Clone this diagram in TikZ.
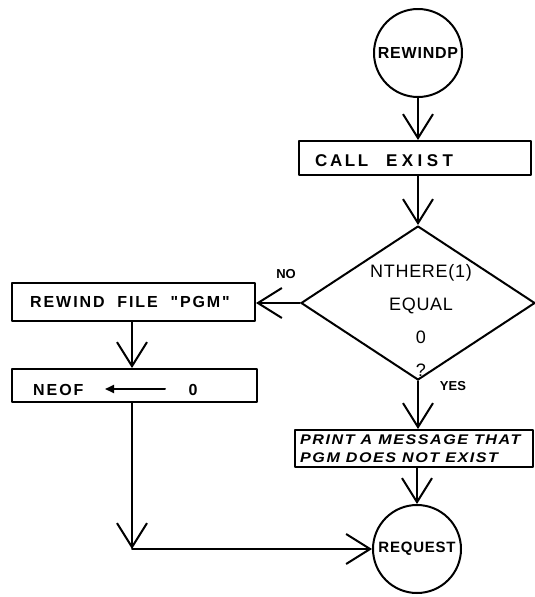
\documentclass[tikz,border=0pt]{standalone}
\usepackage{fontspec}
\setmainfont{Liberation Sans}
\newfontfamily\circlefont[LetterSpace=5]{Liberation Sans}
\newfontfamily\widefont[LetterSpace=12]{Liberation Sans}
\newfontfamily\callfont[LetterSpace=15]{Liberation Sans}
\newfontfamily\existfont[LetterSpace=26]{Liberation Sans}
\newfontfamily\printfont[LetterSpace=11,FakeStretch=1.15]{Liberation Sans}
\newfontfamily\testfont[LetterSpace=4]{Liberation Sans}
\usetikzlibrary{arrows.meta,shapes.geometric}
\begin{document}
\begin{tikzpicture}[x=1pt,y=-1pt,
  ink/.style={line width=2pt, line join=round, line cap=round},
  flow/.style={ink, -{Straight Barb[length=24pt,width=30pt]}},
  procbox/.style={ink, draw, rectangle, inner sep=0pt},
  termcircle/.style={ink, draw, circle, inner sep=0pt, minimum size=88pt,
    font=\circlefont\bfseries\fontsize{16}{16}\selectfont},
  boxtext/.style={font=\widefont\bfseries\fontsize{16}{16}\selectfont, inner sep=0pt},
  calltext/.style={font=\callfont\bfseries\fontsize{17}{17}\selectfont, inner sep=0pt},
  printtext/.style={font=\printfont\bfseries\itshape\fontsize{14}{18}\selectfont,
    align=left, inner sep=0pt},
  testtext/.style={font=\testfont\fontsize{18}{33}\selectfont,
    align=center, inner sep=0pt},
  smalllabel/.style={font=\bfseries\fontsize{13}{13}\selectfont, inner sep=0pt}
]
\useasboundingbox (0,0) rectangle (535,597);

% terminals
\node[termcircle] (rewindp) at (418,53) {REWINDP};
\node[termcircle, font=\circlefont\bfseries\fontsize{15}{15}\selectfont] (request) at (417,549) {REQUEST};

% right column
\node[procbox, minimum width=232pt, minimum height=34pt] (callexist) at (415,158) {};
\node[calltext, anchor=west] (callexisttxt) at (315,161) {CALL\hspace{18pt}{\existfont EXIST}};

\node[ink, draw, diamond, minimum width=234pt, minimum height=154pt, inner sep=0pt] (test) at (418,303) {};
\node[testtext] (testtxt) at (421,320) {NTHERE(1)\\EQUAL\\0\\?};

\node[procbox, minimum width=238pt, minimum height=37pt] (print) at (414,448.5) {};
\node[printtext, anchor=west] (printtxt) at (300,449) {PRINT A MESSAGE THAT\\PGM DOES NOT EXIST};

% left column
\node[procbox, minimum width=243pt, minimum height=38pt] (rewind) at (133.5,302) {};
\node[boxtext] (rewindtxt) at (130,302) {REWIND \ FILE \ "PGM"};

\node[procbox, minimum width=245pt, minimum height=33pt] (neof) at (134.5,385.5) {};
\node[boxtext, anchor=west] (neoftxt) at (33,390) {NEOF};
\node[boxtext] (zero) at (193,390) {0};
\draw[ink, -{Triangle[length=9pt,width=8pt]}] (165,389) -- (105,389);

\coordinate (corner) at (132,549);

% connectors
\draw[flow] (rewindp) -- (callexist.north -| rewindp);
\draw[flow] (callexist.south -| test.north) -- (test.north);
\draw[flow] (test.west) -- (rewind.east |- test.west);
\draw[flow] (test.south) -- (test.south |- print.north);
\draw[flow] (print.south -| request.north) -- (request.north);
\draw[flow] (rewind.south -| corner) -- (neof.north -| corner);
\draw[flow] (neof.south -| corner) -- (corner);
\draw[flow] (corner) -- (request.west);

% branch labels
\node[smalllabel] (nolabel) at (286,274) {NO};
\node[smalllabel] (yeslabel) at (453,386) {YES};
\end{tikzpicture}
\end{document}
